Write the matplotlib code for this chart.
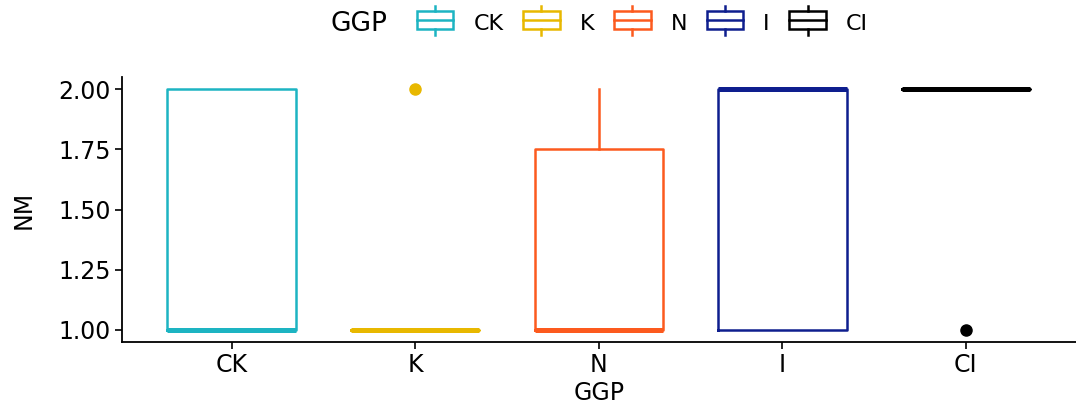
import matplotlib
matplotlib.use("Agg")
import matplotlib.pyplot as plt
from matplotlib.legend_handler import HandlerBase
from matplotlib.patches import Rectangle
from matplotlib.lines import Line2D
from matplotlib.offsetbox import HPacker

plt.rcParams['font.family'] = ['DejaVu Sans']

groups = ["CK", "K", "N", "I", "CI"]
colors = ["#1DB4C2", "#E8B800", "#FC5A1E", "#0E1E8E", "#000000"]
# raw NM values per group (quartiles computed by boxplot)
nm_ck = [1, 1, 1, 1, 2, 2, 2]
nm_k = [1, 1, 1, 1, 1, 2]
nm_n = [1, 1, 1, 1, 2, 2]
nm_i = [1, 1, 1, 2, 2, 2, 2]
nm_ci = [1, 2, 2, 2, 2, 2]
values = [nm_ck, nm_k, nm_n, nm_i, nm_ci]
y_ticks = [1.00, 1.25, 1.50, 1.75, 2.00]


class BoxKey(HandlerBase):
    def create_artists(self, legend, orig, xd, yd, w, h, fontsize, trans):
        c = orig.get_color()
        x0, y0 = xd, yd
        cx = x0 + w / 2
        return [
            Rectangle((x0, y0), w, h, fill=False, ec=c, lw=1.8, transform=trans),
            Line2D([x0, x0 + w], [y0 + h / 2] * 2, color=c, lw=1.8, transform=trans),
            Line2D([cx, cx], [y0 + h, y0 + h * 1.32], color=c, lw=1.8, transform=trans),
            Line2D([cx, cx], [y0, y0 - h * 0.32], color=c, lw=1.8, transform=trans),
        ]


fig = plt.figure(figsize=(10.76, 4.08), dpi=100)
ax = fig.add_axes([0.113, 0.162, 0.887, 0.649])

pos = list(range(len(groups)))
for i, (vals, c) in enumerate(zip(values, colors)):
    ax.boxplot([vals], positions=[i], widths=0.7, whis=1.5,
               showcaps=False,
               boxprops=dict(color=c, lw=1.8),
               whiskerprops=dict(color=c, lw=1.8),
               medianprops=dict(color=c, lw=3.6, solid_capstyle='butt'),
               flierprops=dict(marker='o', markerfacecolor=c, markeredgecolor=c,
                               markersize=8))

ax.set_xlim(-0.6, 4.6)
ax.set_ylim(0.95, 2.05)
ax.set_xticks(pos)
ax.set_xticklabels(groups)
ax.set_yticks(y_ticks)
ax.set_yticklabels([f"{v:.2f}" for v in y_ticks])
ax.tick_params(labelsize=17, length=5, width=1.2, colors='black', pad=3)
for s in ["top", "right"]:
    ax.spines[s].set_visible(False)
for s in ["left", "bottom"]:
    ax.spines[s].set_linewidth(1.3)
ax.set_xlabel("GGP", fontsize=17, labelpad=3)
ax.set_ylabel("NM", fontsize=17, labelpad=16)

handles = [Line2D([], [], color=c) for c in colors]
leg = fig.legend(handles, groups, handler_map={Line2D: BoxKey()},
                 loc='upper center', bbox_to_anchor=(0.557, 1.022), ncol=5,
                 frameon=False, fontsize=16, title="GGP", title_fontsize=19,
                 handlelength=1.65, handleheight=0.86, handletextpad=0.9,
                 columnspacing=0.88)
# put title inline to the left of the keys
packer = leg._legend_box
children = packer.get_children()
packer._children = [HPacker(pad=0, sep=21, align="center",
                            children=[leg._legend_title_box, children[1]])]

fig.savefig("out.png", dpi=100)
